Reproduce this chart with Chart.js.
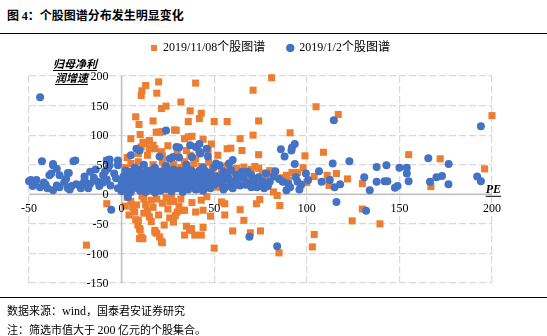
<!DOCTYPE html>
<html>
<head>
<meta charset="utf-8">
<script src="https://cdn.jsdelivr.net/npm/chart.js@4/dist/chart.umd.min.js"></script>
<style>
    body { margin: 0; width: 547px; height: 336px; background: #fff; position: relative; overflow: hidden; font-family: 'Noto Sans CJK SC', sans-serif; color: #000; }
    #myChart { position: absolute; left: 0; top: 0; }
    .title { position: absolute; left: 7px; top: 6px; font-size: 12px; font-weight: bold; line-height: 18px; }
    .title .num { font-family: 'Liberation Serif', serif; }
    .rule { position: absolute; left: 0; width: 547px; height: 1px; background: #000; }
    .note { position: absolute; left: 7px; font-size: 11px; line-height: 14px; }
    .note .lat { font-family: 'Liberation Serif', serif; font-size: 12px; }
</style>
</head>
<body>
<div class="title">图 <span class="num">4</span>：个股图谱分布发生明显变化</div>
<div class="rule" style="top:33px"></div>
<canvas id="myChart" width="547" height="336"></canvas>
<div class="rule" style="top:297px"></div>
<div class="note" style="top:303px">数据来源：<span class="lat">wind</span>，国泰君安证券研究</div>
<div class="note" style="top:322px">注：筛选市值大于 <span class="lat">200</span> 亿元的个股集合。</div>
<script>
// series names
const seriesNames = ["2019/11/08个股图谱", "2019/1/2个股图谱"];

// tick labels
const peTicks = [-50, 0, 50, 100, 150, 200];
const growthTicks = [-150, -100, -50, 0, 50, 100, 150, 200];

// 2019/11/08: [PE, 归母净利润增速]
const novPoints = [
    [11, 175], [13, 184], [10.6, 167], [20, 190], [19, 171], [40, 188], [81, 197], [71, 176],
    [32, 156], [24, 149], [21.5, 145], [37, 141], [43, 137], [42, 128], [7.6, 131], [9.4, 118],
    [17, 124], [36, 123], [50, 123], [57, 123], [74, 124], [105, 148], [117, 135], [10, 101],
    [5, 94], [18.7, 105], [20.5, 105], [22, 106], [28.6, 109], [29.5, 108], [38, 98], [36, 97],
    [34, 94], [44, 93], [64, 94], [71, 100], [91, 104], [48.5, 85], [46.7, 74], [59, 78],
    [65, 74], [74, 67], [99, 65], [109, 71], [155, 67], [172, 60], [200, 133], [11.5, 88],
    [13, 86], [15, 91], [17, 83], [15, 77], [10.6, 80], [9, 69], [14, 66], [18, 77],
    [21.5, 72], [22, 66], [35, 74], [37, 66], [46, 76], [57, 77], [-8, 57], [25, 82],
    [30, 72], [3, 62], [27, 60], [52, 66], [40, 60],
    [2, 45], [4, 30], [5, 52], [6, 20], [7, 40], [8, 10], [9, 55], [10, 35], [11, 25],
    [12, 48], [13, 15], [14, 38], [15, 5], [16, 28], [17, 50], [18, 42], [19, 22], [20, 12],
    [21, 33], [22, 55], [23, 45], [24, 18], [25, 30], [26, 8], [27, 40], [28, 50], [29, 25],
    [30, 15], [31, 35], [32, 45], [33, 20], [34, 55], [35, 10], [36, 30], [37, 42], [38, 24],
    [39, 52], [40, 18], [41, 36], [42, 8], [43, 47], [44, 28], [45, 38], [46, 14], [47, 54],
    [48, 22], [49, 44], [50, 32], [52, 12], [54, 40], [55, 26], [57, 48], [58, 18], [60, 36],
    [62, 44], [64, 24], [65, 35], [66, 46], [68, 21], [70, 42], [72, 47], [74, 44], [76, 36],
    [78, 30], [80, 40], [82, 4], [84, -2], [86, 28], [89, 32], [90, 24], [92, 37], [95, 37],
    [98, 45], [100, 20], [104, 30], [111, 32], [112, 24], [112, 15], [116, 35], [122, 26],
    [130, 18], [167, 13], [196, 43],
    [-19, -86], [-8, -16], [3, -5], [5, -12], [6, -22], [7, -30], [7.6, -43], [8.8, -52],
    [9.7, -58], [10.6, -72], [9.7, -75], [9, -44], [10, -60], [11.5, -75], [12, -8], [13, -18],
    [14, -28], [15, -38], [16, -10], [17, -22], [18, -61], [18, -64], [19, -66], [20.5, -72],
    [21.5, -80], [22, -82], [20, -35], [22, -15], [24, -5], [25, -25], [26, -40], [28, -47],
    [28, -12], [30, -30], [31, -20], [33, -27], [34, -27], [34, -69], [35, -54], [36.7, -61],
    [37.7, -58], [39.5, -69], [40, -30], [43, -10], [44, -27], [44, -56], [43, -69], [48, -37],
    [50, -91], [54, -13], [55.7, -16], [55.7, -35], [60, -62], [64, -26], [66, -44], [69.5, -65],
    [72.8, -16], [74.6, -9], [75, -62], [85.4, -19], [85, -99], [104, -68], [103, -89], [124.5, -45],
    [130, -25], [139.5, -50], [2, -20], [4, -35], [11, -3], [19, -8], [27, -2], [32, -8],
    [38, -14], [46, -4], [8, -18], [12, -32], [16, -46], [23, -52], [26, -12], [29, -36]
];

// 2019/1/2: [PE, 归母净利润增速]
const janPoints = [
    [-44, 164], [-43, 56], [-37, 49], [-35, 43], [-25, 57], [-39, 32], [-29, 36], [-37, 51],
    [-38, 35], [-33.5, 32], [-28.5, 36], [-26, 56], [-17, 38], [-50, 22], [-47, 18], [-44, 12],
    [-37, 7], [-33.5, 12], [-28, 8], [-24.5, 17], [-20, 24], [-17, 18], [-13, 21], [-8, 25],
    [-3, 27], [-5.6, -26], [-8, 57], [-2, 57], [-2, 49], [-7.4, 43], [-6.5, 59], [-6.5, 49],
    [-48, 14], [-46, 24], [-42, 20], [-40, 10], [-35, 15], [-31, 20], [-27, 14], [-22, 10],
    [-20, 30], [-15, 28], [-12, 14], [-10, 32], [-10, 20], [-6, 15], [-4, 35], [-2, 10],
    [-14, 42], [-21, 18], [-30, 26], [-41, 16], [-18, 10], [-9, 38], [-49, 24], [-29, 10],
    [0, 18], [1, 30], [2, 8], [3, 22], [3.4, -4.6], [4, 38], [5, 14], [5, 66], [6, 28], [7, 45],
    [8, 77], [8, 20], [9.7, 74], [9, 10], [10, 35], [11, 24], [12, 50], [12, 15], [13, 30],
    [14, 40], [15, 20], [16, 8], [17, 32], [18, 45], [19, 25], [20, 15], [20.5, 64], [21, 38],
    [22, 28], [23, 10], [24, 108], [24, 48], [25, 20], [26, 60], [26, 33], [27, 5], [27.7, 63],
    [28, 42], [29, 18], [29.6, 80], [30, 28], [31, 62], [31, 79], [32, 12], [33, 36], [34, 22],
    [35, 50], [36, 30], [37, 83], [37, 15], [38, 63], [38, 40], [39, 25], [40, 80], [40, 8],
    [41, 33], [42, 85], [42, 72], [42.5, 69], [43, 20], [44, 45], [45, 28], [46, 77], [46.6, 64],
    [47, 14], [48, 36], [49, 24], [50, 46], [51, 52], [52, 30], [53, 49], [54, 18], [55, 38],
    [56, 26], [58, 52], [59, 41], [60, 58], [61, 22], [62, 33], [64, 15], [65, 38], [66, 28],
    [68, 38], [69, 20], [70, 32], [72, 24], [74, 29], [75, 14], [77, 10], [78, 35], [80, 21],
    [83, 39], [85, 26], [86, 76], [87, 21], [88, 64], [89, 7], [90, 18], [91, 12], [92, 79],
    [93.5, 85], [91.7, 74], [93.5, 51], [94, 29], [95, 21], [97, 16], [99.5, 35], [100.7, 24],
    [106.6, 39], [108, 21], [112.4, 24], [114, 52], [114.6, 125], [115, 12], [116, -13], [118, 17],
    [123, 56], [131, 29], [132, -28], [134, 7], [137.7, 46], [137.7, 21], [142, 22], [143, 49],
    [143.5, 22], [147.6, 11], [149, 14], [150, 45], [154, 45], [154, 35], [155, 22], [165.6, 61],
    [166.5, 21], [170, 29], [173, 31], [176.5, 17], [176.6, 51], [192, 30], [194, 22], [194, 115],
    [69, -72], [84, -88],
    [1, 12], [2, 25], [4, 5], [6, 35], [7, 18], [8, 30], [9, 42], [10, 6], [11, 16], [13, 22],
    [14, 10], [15, 34], [16, 26], [17, 14], [18, 3], [19, 36], [21, 22], [22, 17], [23, 31],
    [24, 9], [25, 40], [26, 15], [28, 26], [30, 10], [31, 40], [33, 4], [34, 30], [35, 18],
    [36, 42], [39, 12], [41, 20], [43, 32], [44, 6], [45, 40], [47, 22], [48, 10], [50, 16],
    [51, 30], [53, 25], [56, 12], [57, 32], [59, 20], [60, 10], [63, 28], [67, 16], [71, 22],
    [73, 12],
    [0, 5], [1, 24], [2, 40], [3, 14], [4, 28], [5, 4], [6, 10], [7, 26], [8, 38], [9, 22],
    [10, 28], [11, 8], [12, 36], [13, 4], [14, 18], [15, 28], [16, 40], [17, 20], [18, 10],
    [19, 16], [20, 30], [21, 6], [22, 36], [23, 20], [24, 26], [25, 12], [26, 24], [27, 32],
    [28, 12], [29, 34], [30, 20], [31, 26], [32, 32], [33, 14], [34, 40], [35, 26], [36, 8],
    [37, 22], [38, 32], [39, 18], [40, 26], [41, 12], [42, 40], [43, 26], [44, 16], [45, 10],
    [46, 32], [48, 28], [49, 16], [52, 22], [54, 30], [55, 8], [58, 26], [62, 16], [66, 34],
    [70, 12], [76, 22], [79, 14], [82, 30], [96, 8]
];

const serifFont = "'Liberation Serif', 'Noto Sans CJK SC', serif";

// axes through zero, tick labels next to them, axis titles
const crossAxes = {
    id: 'crossAxes',
    beforeLayout(chart) {
        let lg = chart.legend;
        if (lg && !lg._patched) {
            let fit = lg.fit;
            lg.fit = function () {
                fit.call(this);
                this.height = 56;
            };
            lg._patched = true;
        }
    },
    afterLayout(chart) {
        if (chart.legend) {
            chart.legend.left += 10;
            chart.legend.right += 10;
        }
    },
    beforeDatasetsDraw(chart) {
        const { ctx, chartArea, scales } = chart;
        let x0 = scales.x.getPixelForValue(0);
        let y0 = scales.y.getPixelForValue(0);
        ctx.save();
        ctx.strokeStyle = '#bfbfbf';
        ctx.lineWidth = 1.5;
        ctx.beginPath();
        ctx.moveTo(x0, chartArea.top);
        ctx.lineTo(x0, chartArea.bottom);
        ctx.moveTo(chartArea.left, y0);
        ctx.lineTo(chartArea.right, y0);
        ctx.stroke();
        ctx.restore();
    },
    afterDatasetsDraw(chart) {
        const { ctx, chartArea, scales } = chart;
        let x0 = scales.x.getPixelForValue(0);
        let y0 = scales.y.getPixelForValue(0);
        ctx.save();
        ctx.fillStyle = '#000';
        ctx.font = "12px " + serifFont;
        ctx.textBaseline = 'middle';

        ctx.textAlign = 'right';
        growthTicks.forEach(v => {
            ctx.fillText(String(v), x0 - 13, scales.y.getPixelForValue(v) + 1);
        });
        ctx.textAlign = 'center';
        peTicks.forEach(v => {
            ctx.fillText(String(v), scales.x.getPixelForValue(v), y0 + 15);
        });

        // y title, two lines, bold italic underlined
        ctx.textAlign = 'left';
        ctx.font = "italic bold 11px 'Noto Sans CJK SC', sans-serif";
        ctx.strokeStyle = '#000';
        ctx.lineWidth = 1;
        [["归母净利", chartArea.left + 24, chartArea.top - 12], ["润增速", chartArea.left + 26, chartArea.top + 2]].forEach(t => {
            ctx.fillText(t[0], t[1], t[2]);
            let w = ctx.measureText(t[0]).width;
            ctx.beginPath();
            ctx.moveTo(t[1], t[2] + 6.5);
            ctx.lineTo(t[1] + w, t[2] + 6.5);
            ctx.stroke();
        });

        // x title
        ctx.font = "italic bold 12px " + serifFont;
        ctx.textAlign = 'right';
        let px = chartArea.right + 9;
        let py = y0 - 4;
        ctx.fillText("PE", px, py);
        let pw = ctx.measureText("PE").width;
        ctx.beginPath();
        ctx.moveTo(px - pw, py + 6);
        ctx.lineTo(px, py + 6);
        ctx.stroke();
        ctx.restore();
    }
};

const toXY = p => ({ x: p[0], y: p[1] });

const config = {
    type: 'scatter',
    data: {
        datasets: [
            {
                label: seriesNames[0],
                data: novPoints.map(toXY),
                pointStyle: 'rect',
                pointRadius: 5,
                backgroundColor: '#ED7D31',
                borderColor: '#ED7D31',
                borderWidth: 0,
                order: 1,
                clip: 8
            },
            {
                label: seriesNames[1],
                data: janPoints.map(toXY),
                pointStyle: 'circle',
                pointRadius: 4,
                backgroundColor: '#4472C4',
                borderColor: '#4472C4',
                borderWidth: 0,
                order: 0,
                clip: 8
            }
        ]
    },
    options: {
        responsive: false,
        animation: false,
        layout: {
            padding: { left: 29, right: 55, top: 20, bottom: 53 }
        },
        plugins: {
            legend: {
                position: 'top',
                labels: {
                    usePointStyle: true,
                    boxWidth: 6,
                    boxHeight: 6,
                    padding: 22,
                    color: '#000',
                    font: { family: serifFont, size: 12 },
                    sort: (a, b) => a.datasetIndex - b.datasetIndex
                }
            },
            tooltip: { enabled: false }
        },
        scales: {
            x: {
                type: 'linear',
                min: -50,
                max: 200,
                ticks: { display: false, stepSize: 50 },
                grid: { color: '#d9d9d9', lineWidth: 1.2, drawTicks: false },
                border: { display: false, dash: [7, 3] }
            },
            y: {
                type: 'linear',
                min: -150,
                max: 200,
                ticks: { display: false, stepSize: 50 },
                grid: { color: '#d9d9d9', lineWidth: 1.2, drawTicks: false },
                border: { display: false, dash: [7, 3] }
            }
        }
    },
    plugins: [crossAxes]
};

const myChart = new Chart(document.getElementById('myChart'), config);
</script>
</body>
</html>
